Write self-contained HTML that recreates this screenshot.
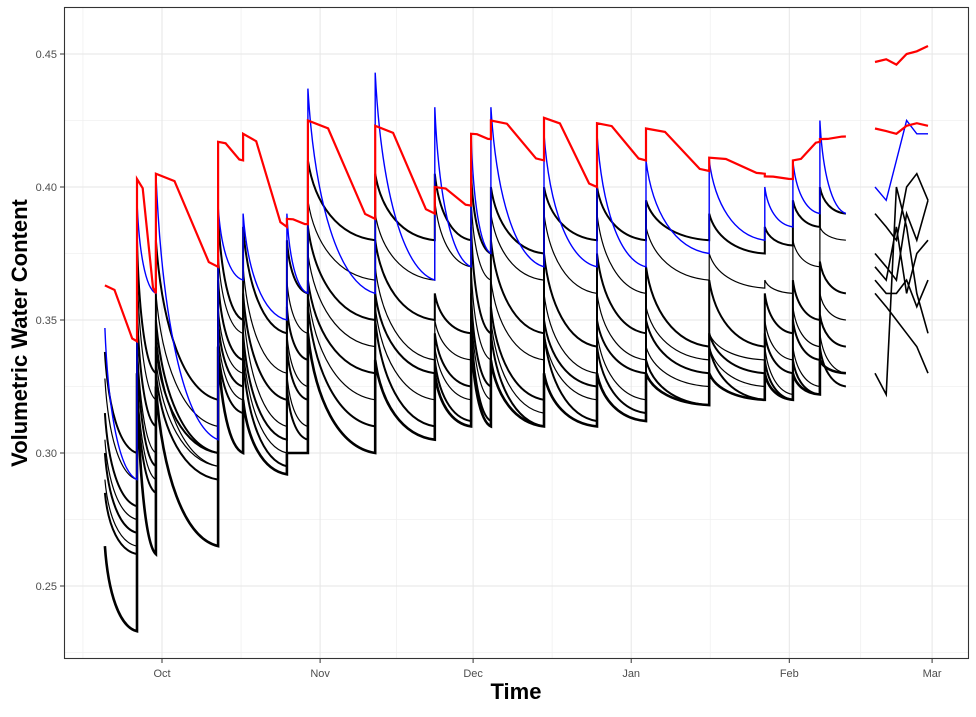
<!DOCTYPE html>
<html><head><meta charset="utf-8"><style>
body{margin:0;background:#fff;width:976px;height:712px;overflow:hidden;font-family:"Liberation Sans",sans-serif}
</style></head><body>
<svg id="chart" width="976" height="712" xmlns="http://www.w3.org/2000/svg">
<g id="grid"></g>
<g id="series"></g>
<rect x="64.5" y="7.5" width="904" height="651" fill="none" stroke="#333" stroke-width="1.1"/>
<g id="axes"></g>
<text x="516" y="699" text-anchor="middle" font-size="22" font-weight="bold">Time</text>
<text transform="translate(27,333) rotate(-90)" text-anchor="middle" font-size="22" font-weight="bold">Volumetric Water Content</text>
</svg>
<script>
const yTicks=[0.25,0.30,0.35,0.40,0.45];
const yTickLabels=["0.25","0.30","0.35","0.40","0.45"];
const xTickDays=[0,31,61,92,123,151];
const xTickLabels=["Oct","Nov","Dec","Jan","Feb","Mar"];
const events=[-11.2,-4.9,-1.2,11,15.9,24.5,28.6,41.8,53.5,60.6,64.5,74.9,85.3,94.9,107.3,118.2,123.7,129];
const endDay=134.1;
const redP=[.363,.403,.405,.417,.420,.388,.425,.423,.400,.420,.425,.426,.424,.422,.411,.404,.410,.418];
const redT=[.342,.360,.370,.410,.385,.386,.388,.390,.393,.418,.410,.400,.410,.406,.405,.403,.417,.419];
const blueP=[.347,.395,.405,.393,.390,.390,.437,.443,.430,.420,.430,.420,.420,.410,.410,.400,.410,.425];
const blueT=[.290,.360,.305,.365,.350,.360,.360,.365,.370,.375,.370,.370,.370,.375,.380,.385,.390,.390];
const b1P=[.338,.380,.380,.390,.385,.380,.410,.405,.405,.405,.400,.400,.400,.395,.390,.385,.395,.400];
const b1T=[.300,.330,.320,.350,.345,.360,.380,.380,.380,.375,.375,.380,.380,.380,.375,.378,.385,.390];
const b2P=[.328,.370,.360,.375,.370,.365,.395,.390,.395,.395,.390,.390,.390,.385,.375,.365,.380,.385];
const b2T=[.290,.320,.310,.345,.330,.345,.365,.365,.370,.365,.365,.360,.360,.365,.362,.360,.370,.380];
const b3P=[.315,.355,.350,.365,.360,.355,.385,.380,.360,.385,.380,.375,.375,.370,.365,.360,.365,.372];
const b3T=[.280,.310,.300,.335,.320,.335,.350,.350,.345,.345,.345,.340,.345,.340,.340,.345,.350,.360];
const b4P=[.305,.345,.345,.355,.355,.345,.375,.370,.350,.370,.365,.360,.360,.355,.345,.350,.355,.360];
const b4T=[.275,.300,.295,.330,.310,.325,.340,.335,.335,.335,.335,.330,.335,.335,.335,.335,.340,.350];
const b5P=[.300,.340,.340,.350,.345,.340,.365,.360,.345,.360,.355,.350,.350,.350,.345,.345,.350,.352];
const b5T=[.270,.295,.300,.325,.305,.320,.330,.330,.325,.325,.320,.325,.330,.330,.330,.330,.335,.340];
const b6P=[.290,.330,.335,.345,.340,.330,.360,.355,.340,.355,.350,.345,.345,.340,.340,.340,.340,.345];
const b6T=[.265,.290,.295,.320,.300,.310,.320,.320,.320,.320,.315,.320,.320,.325,.325,.322,.325,.330];
const b7P=[.285,.325,.330,.340,.335,.325,.355,.350,.335,.350,.345,.345,.340,.335,.340,.335,.335,.340];
const b7T=[.262,.285,.290,.315,.295,.305,.310,.310,.312,.312,.310,.312,.315,.318,.320,.320,.322,.325];
const b8P=[.265,.330,.325,.340,.320,.300,.345,.335,.330,.345,.335,.330,.330,.330,.330,.330,.330,.335];
const b8T=[.233,.262,.265,.300,.292,.300,.300,.305,.310,.310,.310,.310,.312,.318,.320,.320,.322,.330];
const days2=[139.8,142,144,146,148,150.2];
const red2a=[.447,.448,.446,.450,.451,.453];
const red2b=[.422,.421,.420,.423,.424,.423];
const blue2=[.400,.395,.410,.425,.420,.420];
const k1=[.330,.322,.400,.385,.360,.345];
const k2=[.375,.370,.365,.390,.380,.395];
const k3=[.365,.360,.360,.365,.355,.365];
const k4=[.360,.355,.350,.345,.340,.330];
const k5=[.390,.385,.380,.400,.405,.395];
const k6=[.370,.365,.385,.360,.375,.380];

const NS="http://www.w3.org/2000/svg";
const X=d=>162+d*5.1;
const Y=v=>54+(0.45-v)*2660;
function mk(tag,attrs,parent){const e=document.createElementNS(NS,tag);for(const k in attrs)e.setAttribute(k,attrs[k]);parent.appendChild(e);return e;}
const grid=document.getElementById('grid'),axes=document.getElementById('axes'),ser=document.getElementById('series');
for(let i=0;i<yTicks.length+1;i++){const v=yTicks[0]-0.025+i*0.05;const l=mk('line',{x1:64,x2:969,y1:Y(v),y2:Y(v),stroke:'#f0f0f0','stroke-width':0.8},grid);

}
for(let i=-1;i<xTickDays.length-1;i++){const a=i<0?xTickDays[0]-31:xTickDays[i];const b=xTickDays[i+1];const d=(a+b)/2;
const l=mk('line',{x1:X(d),x2:X(d),y1:8,y2:659,stroke:'#f0f0f0','stroke-width':0.8},grid);

}
yTicks.forEach((v,i)=>{const l=mk('line',{x1:64,x2:969,y1:Y(v),y2:Y(v),stroke:'#e6e6e6','stroke-width':1},grid);


const t=mk('line',{x1:60,x2:64,y1:Y(v),y2:Y(v),stroke:'#333'},axes);


const tx=mk('text',{x:57,y:Y(v)+4,'text-anchor':'end','font-size':11,fill:'#4d4d4d'},axes);tx.textContent=yTickLabels[i];

});
xTickDays.forEach((d,i)=>{const l=mk('line',{x1:X(d),x2:X(d),y1:8,y2:659,stroke:'#e6e6e6','stroke-width':1},grid);


const t=mk('line',{x1:X(d),x2:X(d),y1:659,y2:663,stroke:'#333'},axes);


const tx=mk('text',{x:X(d),y:677,'text-anchor':'middle','font-size':11,fill:'#4d4d4d'},axes);tx.textContent=xTickLabels[i];

});
function sawPath(P,T){let d='';for(let i=0;i<events.length;i++){const x0=X(events[i]),x1=X(i+1<events.length?events[i+1]:endDay);const w=x1-x0;const yp=Y(P[i]),yt=Y(T[i]);
d+=(i==0?'M':'L')+x0.toFixed(1)+' '+yp.toFixed(1)+' C'+(x0+w*0.1).toFixed(1)+' '+(yp+(yt-yp)*0.55).toFixed(1)+' '+(x0+w*0.45).toFixed(1)+' '+(yt-(yt-yp)*0.05).toFixed(1)+' '+x1.toFixed(1)+' '+yt.toFixed(1)+' ';}
return d;}
function plateauPath(P,T){let d='';for(let i=0;i<events.length;i++){const x0=X(events[i]),x1=X(i+1<events.length?events[i+1]:endDay);const w=x1-x0;const yp=Y(P[i]),yt=Y(T[i]);
d+=(i==0?'M':'L')+x0.toFixed(1)+' '+yp.toFixed(1)+' L'+(x0+w*0.3).toFixed(1)+' '+(yp+(yt-yp)*0.08).toFixed(1)+' L'+(x0+w*0.85).toFixed(1)+' '+(yt-(yt-yp)*0.05).toFixed(1)+' L'+x1.toFixed(1)+' '+yt.toFixed(1)+' ';}
return d;}
function linePath(vals){return vals.map((v,i)=>(i?'L':'M')+X(days2[i]).toFixed(1)+' '+Y(v).toFixed(1)).join(' ');}
const blacks=[[b1P,b1T],[b2P,b2T],[b3P,b3T],[b4P,b4T],[b5P,b5T],[b6P,b6T],[b7P,b7T],[b8P,b8T]];
blacks.forEach((s,i)=>{const p=mk('path',{d:sawPath(s[0],s[1]),fill:'none',stroke:'#000','stroke-width':i==7?2.6:(i%2?1.2:2)},ser);

});
[k1,k2,k3,k4,k5,k6].forEach(s=>{const p=mk('path',{d:linePath(s),fill:'none',stroke:'#000','stroke-width':1.6},ser);

});
let p=mk('path',{d:sawPath(blueP,blueT),fill:'none',stroke:'#0000ff','stroke-width':1.4},ser);


p=mk('path',{d:linePath(blue2),fill:'none',stroke:'#0000ff','stroke-width':1.4},ser);


p=mk('path',{d:plateauPath(redP,redT),fill:'none',stroke:'#ff0000','stroke-width':2.2},ser);


[red2a,red2b].forEach(s=>{const q=mk('path',{d:linePath(s),fill:'none',stroke:'#ff0000','stroke-width':2.2},ser);

});
</script>
</body></html>
